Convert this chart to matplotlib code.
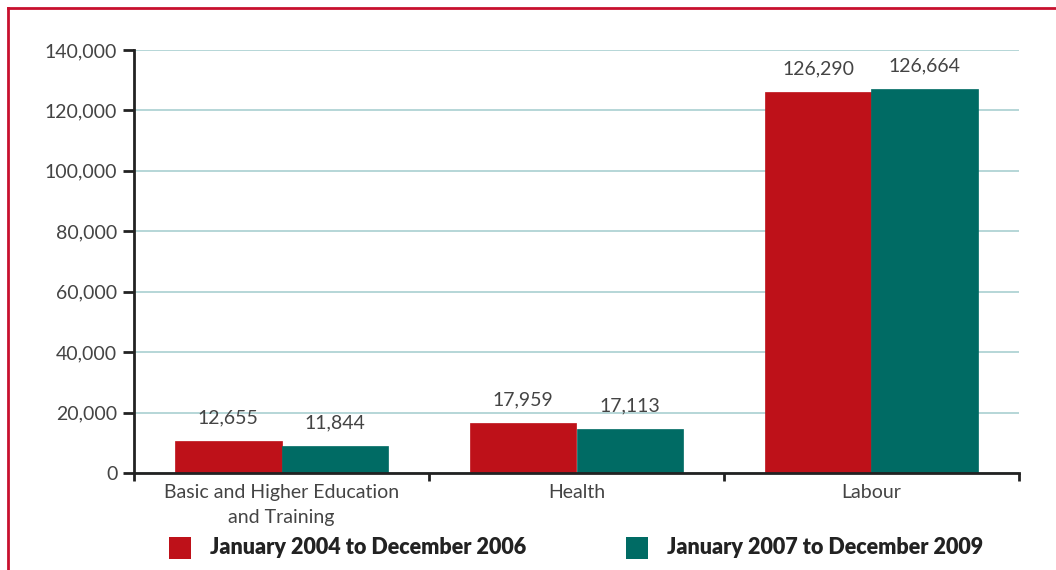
import matplotlib
matplotlib.use("Agg")
import matplotlib.pyplot as plt
import numpy as np
from matplotlib.patches import Rectangle
from matplotlib.lines import Line2D

categories = ["Basic and Higher Education\nand Training", "Health", "Labour"]
series_names = ["January 2004 to December 2006", "January 2007 to December 2009"]
# bar heights as drawn in the picture
heights_2004 = [10600, 16600, 126200]
heights_2007 = [8900, 14600, 127100]
# value labels printed above bars
labels_2004 = ["12,655", "17,959", "126,290"]
labels_2007 = ["11,844", "17,113", "126,664"]
yticks = [0, 20000, 40000, 60000, 80000, 100000, 120000, 140000]
ytick_labels = ["0", "20,000", "40,000", "60,000", "80,000", "100,000", "120,000", "140,000"]

RED = "#BE1119"
TEAL = "#006B64"
GRID = "#A9CFD1"
TXT = "#444444"
FONT = "Lato"
FS = 14

W, H = 1056, 570
fig = plt.figure(figsize=(W / 100, H / 100), dpi=100)
ax = fig.add_axes([134 / W, 1 - 473 / H, (1019 - 134) / W, (473 - 50) / H])

x = np.arange(len(categories))
bw = 0.362
ax.bar(x - bw / 2, heights_2004, width=bw, color=RED, edgecolor=RED, linewidth=0.5, zorder=3)
ax.bar(x + bw / 2, heights_2007, width=bw, color=TEAL, edgecolor=TEAL, linewidth=0.5, zorder=3)

for xi, h, lab in zip(x - bw / 2, heights_2004, labels_2004):
    ax.annotate(lab, (xi, h), xytext=(0, 16.5), textcoords="offset points",
                ha="center", va="center", fontsize=FS, color=TXT, family=FONT)
for xi, h, lab in zip(x + bw / 2, heights_2007, labels_2007):
    ax.annotate(lab, (xi, h), xytext=(0, 16.5), textcoords="offset points",
                ha="center", va="center", fontsize=FS, color=TXT, family=FONT)

ax.set_xlim(-0.5, len(categories) - 0.5)
ax.set_ylim(0, 140000)
ax.set_yticks(yticks)
ax.set_yticklabels(ytick_labels, fontsize=FS, color=TXT, family=FONT)
ax.yaxis.grid(True, color=GRID, linewidth=1.2, zorder=0)
ax.set_axisbelow(True)

# x ticks at category boundaries, labels at centers
ax.set_xticks(np.arange(len(categories) + 1) - 0.5)
ax.set_xticklabels([""] * (len(categories) + 1))
ax.set_xticks(x, minor=True)
ax.set_xticklabels(categories, minor=True, fontsize=FS, color=TXT, family=FONT,
                   linespacing=1.55)
ax.tick_params(axis="x", which="minor", length=0, pad=8)
ax.tick_params(axis="x", which="major", length=6, width=2, color="#222222", direction="out")
ax.tick_params(axis="y", length=8, width=2, color="#222222", pad=4)

for s in ["top", "right"]:
    ax.spines[s].set_visible(False)
for s in ["left", "bottom"]:
    ax.spines[s].set_linewidth(2)
    ax.spines[s].set_color("#222222")
    ax.spines[s].set_zorder(4)

# legend (manual)
tr = fig.transFigure
for sx, col, name in [(169, RED, series_names[0]), (626, TEAL, series_names[1])]:
    fig.add_artist(Rectangle((sx / W, 1 - 559 / H), 22 / W, 22 / H, transform=tr,
                             facecolor=col, edgecolor="none"))
    fig.text((sx + 41) / W, 1 - 548 / H, name, transform=tr, ha="left", va="center",
             fontsize=15.5, fontweight="heavy", color="#222222", family=FONT)

# red frame (top and left)
fig.add_artist(Line2D([8 / W, 1.0], [1 - 8 / H, 1 - 8 / H], transform=tr, color="#C8102E", lw=2))
fig.add_artist(Line2D([8 / W, 8 / W], [1 - 8 / H, 0], transform=tr, color="#C8102E", lw=2))

fig.savefig("out.png", dpi=100)
